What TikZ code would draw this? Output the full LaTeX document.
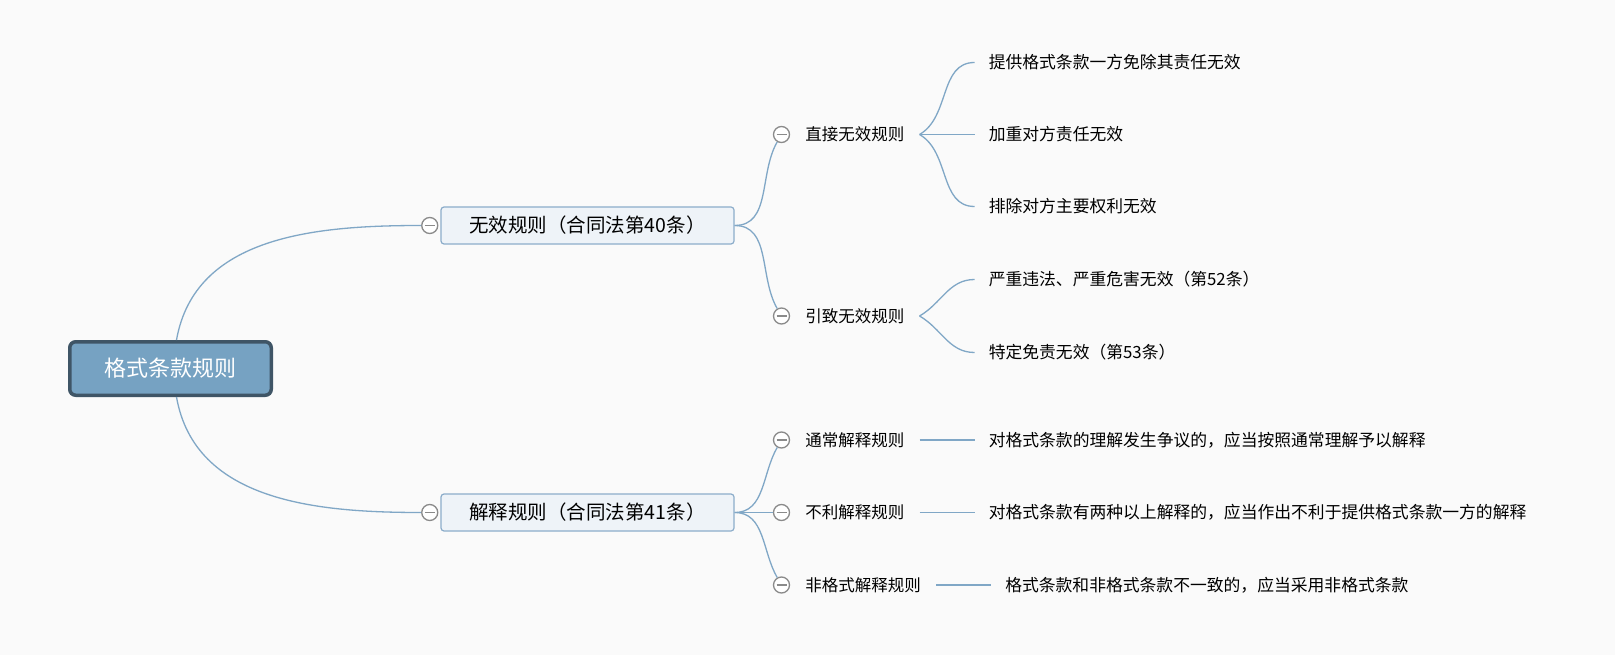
\documentclass[tikz,border=0pt]{standalone}
\usepackage{fontspec}
\setmainfont{Noto Sans CJK SC}
\usetikzlibrary{positioning, calc}
\definecolor{linkblue}{HTML}{80A7C6}
\definecolor{rootfill}{HTML}{76A2C2}
\definecolor{rootedge}{HTML}{3F5566}
\definecolor{boxfill}{HTML}{EEF3F8}
\definecolor{boxedge}{HTML}{8CADCA}
\definecolor{foldgray}{HTML}{8A8A8A}

\begin{document}
\begin{tikzpicture}[x=1pt, y=-1pt, align=left,
  root node/.style={rectangle, rounded corners=6pt, draw=rootedge, fill=rootfill, line width=3.5pt,
    minimum width=201.5pt, minimum height=53.5pt, text=white, font=\fontsize{22}{26}\selectfont},
  main node/.style={rectangle, rounded corners=3pt, draw=boxedge, fill=boxfill, line width=1.2pt,
    minimum width=293pt, minimum height=37pt, text=black, font=\fontsize{19.5}{23}\selectfont},
  sub node/.style={inner xsep=15pt, inner ysep=3pt, font=\fontsize{16.5}{20}\selectfont},
  leaf node/.style={inner xsep=14pt, inner ysep=3pt, font=\fontsize{16.8}{20}\selectfont},
  fold/.style={circle, draw=foldgray, fill=white, line width=1.3pt, minimum size=16pt, inner sep=0pt,
    path picture={\draw[foldgray, line width=1.3pt]
      ([xshift=-5pt]path picture bounding box.center) -- ([xshift=5pt]path picture bounding box.center);}},
  link/.style={draw=linkblue, line width=1.3pt}]
  \fill[white!98!black] (0,0) rectangle (1615,655);
  \useasboundingbox (0,0) rectangle (1615,655);
  % root and first level
  \node[root node] (root) at (170.5,368.5) {格式条款规则};
  \node[main node] (inv) at (587.5,225.5) {无效规则（合同法第40条）};
  \node[main node] (itp) at (587.5,512.5) {解释规则（合同法第41条）};
  \node[fold, left=2pt of inv] (finv) {};
  \node[fold, left=2pt of itp] (fitp) {};
  % second level
  \node[fold] (fdir) at (781.5,134.5) {};
  \node[fold] (find) at (781.5,316) {};
  \node[fold] (fgen) at (781.5,440) {};
  \node[fold] (fadv) at (781.5,512.5) {};
  \node[fold] (fnst) at (781.5,585) {};
  \node[sub node, right=0pt of fdir] (dir) {直接无效规则};
  \node[sub node, right=0pt of find] (ind) {引致无效规则};
  \node[sub node, right=0pt of fgen] (gen) {通常解释规则};
  \node[sub node, right=0pt of fadv] (adv) {不利解释规则};
  \node[sub node, right=0pt of fnst] (nst) {非格式解释规则};
  % third level
  \node[leaf node, right=55pt of dir, yshift=72pt] (d1) {提供格式条款一方免除其责任无效};
  \node[leaf node, right=55pt of dir] (d2) {加重对方责任无效};
  \node[leaf node, right=55pt of dir, yshift=-72pt] (d3) {排除对方主要权利无效};
  \node[leaf node, right=55pt of ind, yshift=36.5pt] (n1) {严重违法、严重危害无效（第52条）};
  \node[leaf node, right=55pt of ind, yshift=-36.5pt] (n2) {特定免责无效（第53条）};
  \node[leaf node, right=55pt of gen] (g1) {对格式条款的理解发生争议的，应当按照通常理解予以解释};
  \node[leaf node, right=55pt of adv] (a1) {对格式条款有两种以上解释的，应当作出不利于提供格式条款一方的解释};
  \node[leaf node, right=55pt of nst] (s1) {格式条款和非格式条款不一致的，应当采用非格式条款};
  % connectors
  \draw[link] ($(root.north)+(6,0)$) to[out=80, in=180] (finv);
  \draw[link] ($(root.south)+(6,0)$) to[out=-80, in=180] (fitp);
  \draw[link] (inv.east) to[out=0, in=-120] (fdir);
  \draw[link] (inv.east) to[out=0, in=120] (find);
  \draw[link] (itp.east) to[out=0, in=-120] (fgen);
  \draw[link] (itp.east) -- (fadv);
  \draw[link] (itp.east) to[out=0, in=120] (fnst);
  \draw[link] (dir.east) to[out=30, in=180] (d1.west);
  \draw[link] (dir.east) -- (d2.west);
  \draw[link] (dir.east) to[out=-30, in=180] (d3.west);
  \draw[link] (ind.east) to[out=30, in=180] (n1.west);
  \draw[link] (ind.east) to[out=-30, in=180] (n2.west);
  \draw[link] (gen.east) -- (g1.west);
  \draw[link] (adv.east) -- (a1.west);
  \draw[link] (nst.east) -- (s1.west);
\end{tikzpicture}
\end{document}
